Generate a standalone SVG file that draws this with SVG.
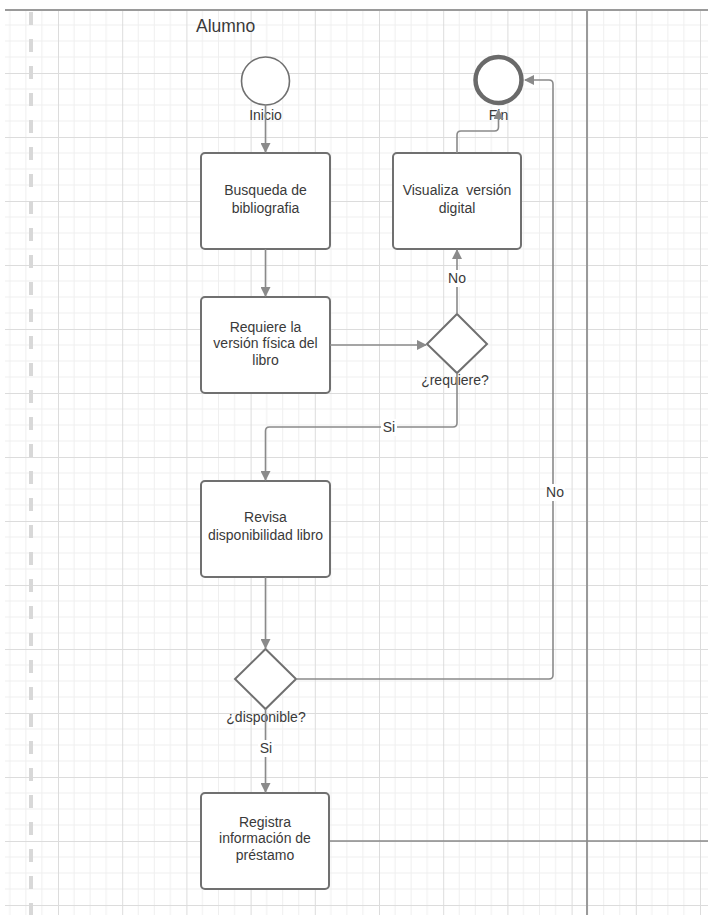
<svg xmlns="http://www.w3.org/2000/svg" width="708" height="915" viewBox="0 0 708 915">
  <defs>
    <pattern id="grid" patternUnits="userSpaceOnUse" x="-6.2" y="9" width="64.2" height="64">
      <path d="M16.05,0V64M32.1,0V64M48.15,0V64M0,16H64.2M0,32H64.2M0,48H64.2" stroke="#efefef" stroke-width="1" fill="none"/>
      <path d="M0.5,0V64M0,0.5H64.2" stroke="#dcdcdc" stroke-width="1" fill="none"/>
    </pattern>
    <marker id="arrow" viewBox="0 0 10 10" refX="9" refY="5" markerWidth="10" markerHeight="10" markerUnits="userSpaceOnUse" orient="auto">
      <path d="M0,0 L10,5 L0,10 Z" fill="#8a8a8a"/>
    </marker>
    <style>
      .box { fill: #ffffff; stroke: #707070; stroke-width: 2; }
      .dia { fill: #ffffff; stroke: #707070; stroke-width: 2; }
      .txt { font-family: "Liberation Sans", Arial, sans-serif; font-size: 14px; fill: #3a3a3a; text-anchor: middle; }
      .conn { fill: none; stroke: #8a8a8a; stroke-width: 1.6; }
      .lbl { font-family: "Liberation Sans", Arial, sans-serif; font-size: 14px; fill: #3a3a3a; text-anchor: middle; }
      .lblbg { fill: #ffffff; }
    </style>
  </defs>

  <rect x="0" y="0" width="708" height="915" fill="#ffffff"/>
  <rect x="5" y="11" width="703" height="904" fill="url(#grid)"/>

  <g id="lane">
    <line x1="5" y1="10" x2="708" y2="10" stroke="#9a9a9a" stroke-width="2"/>
    <line x1="587" y1="10" x2="587" y2="915" stroke="#9a9a9a" stroke-width="2"/>
    <line x1="31" y1="12" x2="31" y2="915" stroke="#d8d8d8" stroke-width="4" stroke-dasharray="13 14"/>
    <text x="196" y="32" font-family="Liberation Sans, Arial, sans-serif" font-size="17.5" fill="#3a3a3a">Alumno</text>
  </g>

  <g id="inicio">
    <circle cx="265.5" cy="81" r="24" fill="#ffffff" stroke="#707070" stroke-width="1.6"/>
    <text class="txt" x="265.5" y="120">Inicio</text>
  </g>

  <g id="fin">
    <circle cx="498.5" cy="80" r="23" fill="#ffffff" stroke="#6a6a6a" stroke-width="4.5"/>
    <text class="txt" x="498.5" y="120">Fin</text>
  </g>

  <g id="busqueda">
    <rect class="box" x="201" y="153" width="129" height="96" rx="4"/>
    <text class="txt" x="265.5" y="195">Busqueda de</text>
    <text class="txt" x="265.5" y="213">bibliografia</text>
  </g>

  <g id="visualiza">
    <rect class="box" x="393" y="153" width="128" height="96" rx="4"/>
    <text class="txt" x="457" y="195" xml:space="preserve">Visualiza  versión</text>
    <text class="txt" x="457" y="213">digital</text>
  </g>

  <g id="requiere">
    <rect class="box" x="201" y="297" width="129" height="96" rx="4"/>
    <text class="txt" x="265.5" y="332">Requiere la</text>
    <text class="txt" x="265.5" y="348">versión física del</text>
    <text class="txt" x="265.5" y="365">libro</text>
  </g>

  <g id="dec-requiere">
    <polygon class="dia" points="457,314 487,344 457,373 427,344"/>
    <text class="txt" x="455" y="385">¿requiere?</text>
  </g>

  <g id="revisa">
    <rect class="box" x="201" y="481" width="129" height="96" rx="4"/>
    <text class="txt" x="265.5" y="522">Revisa</text>
    <text class="txt" x="265.5" y="540">disponibilidad libro</text>
  </g>

  <g id="dec-disponible">
    <polygon class="dia" points="265.5,649 296,679 265.5,709 235,679"/>
    <text class="txt" x="266" y="722">¿disponible?</text>
  </g>

  <g id="registra">
    <rect class="box" x="201" y="793" width="128" height="96" rx="4"/>
    <text class="txt" x="265" y="827">Registra</text>
    <text class="txt" x="265" y="843">información de</text>
    <text class="txt" x="265" y="860">préstamo</text>
  </g>

  <g id="connectors">
    <path class="conn" d="M265.5,105 V152" marker-end="url(#arrow)"/>
    <path class="conn" d="M265.5,249 V296" marker-end="url(#arrow)"/>
    <path class="conn" d="M330,345 H426" marker-end="url(#arrow)"/>
    <path class="conn" d="M457,314 V250" marker-end="url(#arrow)"/>
    <path class="conn" d="M457,153 V135 Q457,131 461,131 H494.5 Q498.5,131 498.5,127 V110" marker-end="url(#arrow)"/>
    <path class="conn" d="M457,373 V423 Q457,427 453,427 H269.5 Q265.5,427 265.5,431 V480" marker-end="url(#arrow)"/>
    <path class="conn" d="M265.5,577 V648" marker-end="url(#arrow)"/>
    <path class="conn" d="M296,679 H549 Q553,679 553,675 V84 Q553,80 549,80 H525" marker-end="url(#arrow)"/>
    <path class="conn" d="M265.5,709 V792" marker-end="url(#arrow)"/>
    <path class="conn" d="M330,841 H708"/>
  </g>

  <g id="connector-labels">
    <rect class="lblbg" x="447" y="270" width="20" height="17"/>
    <text class="lbl" x="457" y="283">No</text>
    <rect class="lblbg" x="381" y="419" width="16" height="17"/>
    <text class="lbl" x="389" y="432">Si</text>
    <rect class="lblbg" x="545" y="484" width="20" height="17"/>
    <text class="lbl" x="555" y="497">No</text>
    <rect class="lblbg" x="258" y="740" width="16" height="17"/>
    <text class="lbl" x="266" y="753">Si</text>
  </g>
</svg>
